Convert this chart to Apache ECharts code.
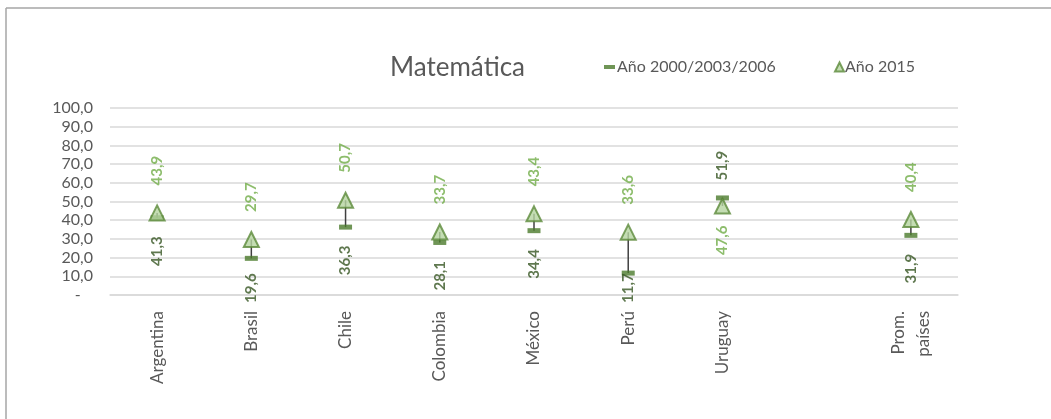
<!DOCTYPE html>
<html>
<head>
<meta charset="utf-8">
<script src="https://cdn.jsdelivr.net/npm/echarts@6/dist/echarts.min.js"></script>
<style>
html,body{margin:0;padding:0;background:#fff;}
#chart{width:1051px;height:419px;}
</style>
</head>
<body>
<div id="chart"></div>
<script>
// ---- data ----
const categories = ['Argentina', 'Brasil', 'Chile', 'Colombia', 'México', 'Perú', 'Uruguay', '', 'Prom.\npaíses'];
const year2000 = [41.3, 19.6, 36.3, 28.1, 34.4, 11.7, 51.9, null, 31.9];
const year2015 = [43.9, 29.7, 50.7, 33.7, 43.4, 33.6, 47.6, null, 40.4];
const yTicks = [0, 10, 20, 30, 40, 50, 60, 70, 80, 90, 100];
const seriesNames = ['Año 2000/2003/2006', 'Año 2015'];
const chartTitle = 'Matemática';

const FONT = 'Lato';
const fmt = v => v.toFixed(1).replace('.', ',');

const d2015 = year2015.map((v, i) => {
  if (v == null) return null;
  const above = v >= year2000[i];
  return {
    value: v,
    label: {
      position: above ? 'top' : 'bottom',
      distance: above ? 19 : 11,
      align: above ? 'left' : 'right',
      verticalAlign: 'middle'
    }
  };
});
const d2000 = year2000.map((v, i) => {
  if (v == null) return null;
  const above = v > year2015[i];
  return {
    value: v,
    label: {
      position: above ? 'top' : 'bottom',
      distance: above ? 15 : 16,
      align: above ? 'left' : 'right',
      verticalAlign: 'middle'
    }
  };
});
const hiLo = categories.map((c, i) => (year2000[i] == null ? null : [i, year2000[i], year2015[i]])).filter(Boolean);

const GRID_TOP = 108, GRID_BOTTOM = 124, H = 419;
// keep labels from running far below the plot area (as the spreadsheet does)
// (label is rotated 90°, so its local +x runs up the screen)
const clampLabel = params => {
  const r = params.labelRect;
  const limit = H - GRID_BOTTOM + 8;
  const over = r.y + r.height - limit;
  if (over > 0) return { dx: over };
  return {};
};

const chart = echarts.init(document.getElementById('chart'), null, { renderer: 'canvas' });
chart.setOption({
  animation: false,
  backgroundColor: '#fff',
  textStyle: { fontFamily: FONT },
  title: {
    text: chartTitle,
    left: 390,
    top: 55,
    padding: 0,
    textStyle: { fontFamily: FONT, fontSize: 26, fontWeight: 'normal', color: '#595959' }
  },
  legend: [
    {
      data: [seriesNames[0]],
      left: 604,
      top: 59,
      padding: 0,
      itemWidth: 11,
      itemHeight: 4,
      itemGap: 0,
      textStyle: { fontFamily: FONT, fontSize: 16, color: '#595959', padding: [0, 0, 0, -3] }
    },
    {
      data: [seriesNames[1]],
      left: 834,
      top: 59,
      padding: 0,
      itemWidth: 9,
      itemHeight: 9,
      textStyle: { fontFamily: FONT, fontSize: 16, color: '#595959', padding: [0, 0, 0, -4] }
    }
  ],
  graphic: [
    { type: 'line', shape: { x1: 6, y1: 8, x2: 1051, y2: 8 }, style: { stroke: '#a6a6a6', lineWidth: 1.5 }, silent: true },
    { type: 'line', shape: { x1: 6, y1: 8, x2: 6, y2: 419 }, style: { stroke: '#a6a6a6', lineWidth: 1.5 }, silent: true }
  ],
  grid: { left: 110, right: 93, top: GRID_TOP, bottom: GRID_BOTTOM, containLabel: false },
  xAxis: {
    type: 'category',
    data: categories,
    axisLine: { show: true, lineStyle: { color: '#d9d9d9', width: 1.5 } },
    axisTick: { show: false },
    axisLabel: {
      rotate: 90,
      margin: 16,
      interval: 0,
      fontFamily: FONT,
      fontSize: 17,
      color: '#595959',
      lineHeight: 25
    }
  },
  yAxis: {
    type: 'value',
    min: yTicks[0],
    max: yTicks[yTicks.length - 1],
    interval: yTicks[1] - yTicks[0],
    axisLine: { show: false },
    axisTick: { show: false },
    splitLine: { lineStyle: { color: '#d9d9d9', width: 1.5 } },
    axisLabel: {
      margin: 17,
      fontFamily: FONT,
      fontSize: 16,
      color: '#595959',
      formatter: v => (v === 0 ? '-   ' : fmt(v))
    }
  },
  series: [
    {
      type: 'custom',
      name: 'hilo',
      silent: true,
      z: 1,
      data: hiLo,
      encode: { x: 0, y: [1, 2] },
      renderItem: (params, api) => {
        const a = api.coord([api.value(0), api.value(1)]);
        const b = api.coord([api.value(0), api.value(2)]);
        return {
          type: 'line',
          shape: { x1: a[0], y1: a[1], x2: b[0], y2: b[1] },
          style: { stroke: '#404040', lineWidth: 1.5 }
        };
      }
    },
    {
      type: 'scatter',
      name: seriesNames[0],
      z: 2,
      symbol: 'rect',
      symbolSize: [13, 5],
      itemStyle: { color: '#4b7a2c' },
      data: d2000,
      labelLayout: clampLabel,
      label: {
        show: true,
        rotate: 90,
        fontFamily: FONT,
        fontSize: 15,
        fontWeight: 'bold',
        color: '#375623',
        formatter: p => fmt(p.value)
      }
    },
    {
      type: 'scatter',
      name: seriesNames[1],
      z: 3,
      symbol: 'triangle',
      symbolSize: [15, 15],
      itemStyle: { color: '#b5d5a0', borderColor: '#5b8a3a', borderWidth: 2 },
      data: d2015,
      label: {
        show: true,
        rotate: 90,
        fontFamily: FONT,
        fontSize: 15,
        fontWeight: 'bold',
        color: '#70ad47',
        formatter: p => fmt(p.value)
      }
    }
  ]
});
</script>
</body>
</html>
